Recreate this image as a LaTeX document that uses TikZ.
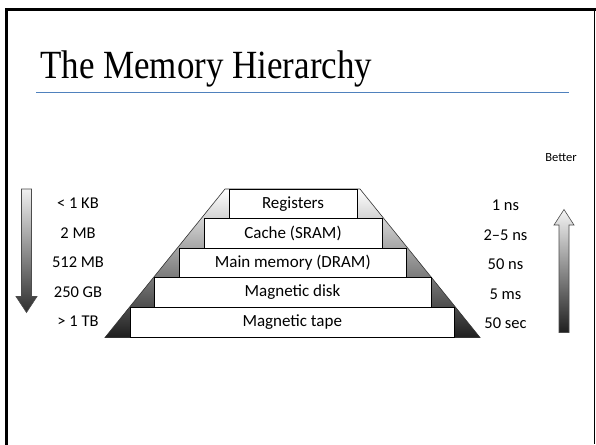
\documentclass[tikz,border=0pt]{standalone}
\usepackage{fontspec}
\setmainfont{Carlito}
\newfontfamily\titlefont{Liberation Serif}
\usetikzlibrary{shadings}
\definecolor{rulblue}{HTML}{4F81BD}
\begin{document}
\begin{tikzpicture}[x=1pt,y=-1pt,
  level/.style={draw=black,line width=0.8pt,fill=white,inner sep=0pt,font=\fontsize{17}{20}\selectfont},
  lab/.style={inner sep=0pt,font=\fontsize{16.5}{20}\selectfont},
  arr/.style={draw=black!70,line width=0.6pt}]
\useasboundingbox (0,0) rectangle (596,444);
\fill[white] (0,0) rectangle (596,444);
% frame
\draw[line width=3pt,line cap=rect] (6.5,444) -- (6.5,9.5) -- (594.5,9.5);
\draw[line width=1pt] (594.5,9.5) -- (594.5,444);
% title
\node[anchor=base west,inner sep=0pt,font=\titlefont\fontsize{40}{44}\selectfont] (title) at (40,78) {\scalebox{0.874}[1]{The Memory Hierarchy}};
\draw[rulblue,line width=1pt] (36,92) -- (569,92);
% pyramid
\shade[top color=white,bottom color=black!88,draw=black!80,line width=0.6pt]
  (225,189) -- (360,189) -- (480,337.5) -- (105,337.5) -- cycle;
\node[level,minimum width=128pt,minimum height=29.5pt] (reg) at (293,203.75) {Registers};
\node[level,minimum width=178pt,minimum height=29.5pt] (cache) at (293,233.25) {Cache (SRAM)};
\node[level,minimum width=227pt,minimum height=29.5pt] (main) at (292.75,262.75) {Main memory (DRAM)};
\node[level,minimum width=277pt,minimum height=29.5pt] (disk) at (292.5,292.25) {Magnetic disk};
\node[level,minimum width=324.5pt,minimum height=29.5pt] (tape) at (292.25,322.25) {Magnetic tape};
% left labels
\node[lab] (s1) at (78,203.5) {< 1 KB};
\node[lab] (s2) at (78,233) {2 MB};
\node[lab] (s3) at (78,262.5) {512 MB};
\node[lab] (s4) at (78,292) {250 GB};
\node[lab] (s5) at (78,321.5) {> 1 TB};
% right labels
\node[lab] (t1) at (505.5,205) {1 ns};
\node[lab] (t2) at (505.5,235) {2–5 ns};
\node[lab] (t3) at (505.5,264.5) {50 ns};
\node[lab] (t4) at (505.5,294) {5 ms};
\node[lab] (t5) at (505.5,323.5) {50 sec};
\node[lab,font=\fontsize{12.5}{15}\selectfont] (better) at (561,157.5) {Better};
% left arrow (down)
\shade[top color=black!6,bottom color=black!82,arr]
  (21.5,189) -- (31.5,189) -- (31.5,296.5) -- (37,296.5) -- (26.5,312.5)
  -- (16,296.5) -- (21.5,296.5) -- cycle;
% right arrow (up)
\shade[top color=black!4,bottom color=black!88,arr]
  (559,332.5) -- (559,225) -- (554,225) -- (564,209.5) -- (574,225)
  -- (569,225) -- (569,332.5) -- cycle;
\end{tikzpicture}
\end{document}
